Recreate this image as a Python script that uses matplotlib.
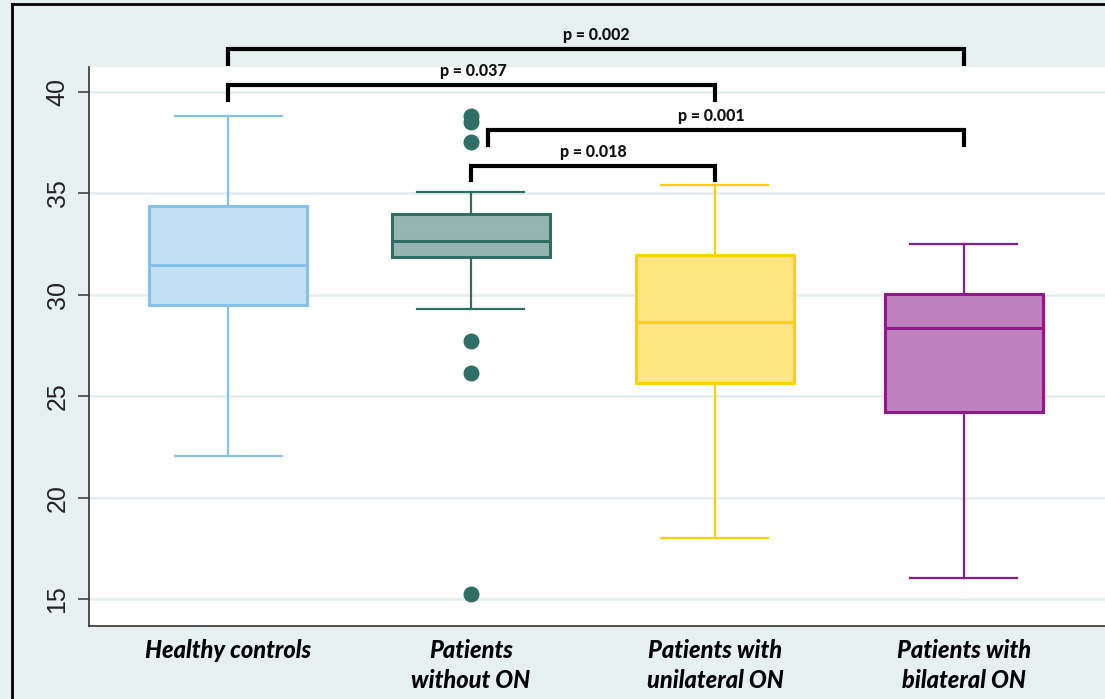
import matplotlib
matplotlib.use("Agg")
import matplotlib.pyplot as plt
from matplotlib.lines import Line2D

# group summaries: whiskers, quartiles, median and outliers
groups = ["Healthy controls", "Patients\nwithout ON", "Patients with\nunilateral ON", "Patients with\nbilateral ON"]
whis_lo = [22.07, 29.31, 18.03, 16.06]
q1 = [29.5, 31.87, 25.67, 24.24]
medians = [31.48, 32.66, 28.67, 28.37]
q3 = [34.38, 33.99, 31.97, 30.05]
whis_hi = [38.82, 35.07, 35.42, 32.51]
outliers = [[], [38.82, 38.52, 37.55, 27.73, 26.16, 15.27], [], []]

edge_colors = ["#85c1e9", "#2f6e65", "#ffd000", "#8b1a8b"]
fill_colors = ["#c3dff3", "#97b4b0", "#fee680", "#bf80bf"]

pos = [0, 0.99, 1.985, 3.0]

# pairwise comparisons: (bracket start, bracket end, p label)
comparisons = [(pos[0], pos[3], "p = 0.002"), (pos[0], pos[2], "p = 0.037"),
               (pos[1] + 0.07, pos[3], "p = 0.001"), (pos[1], pos[2], "p = 0.018")]
bracket_y = [42.12, 40.34, 38.13, 36.36]
label_x = [1.5, 1.0, 1.97, 1.49]

bg = "#e6f0f1"
fig = plt.figure(figsize=(11.05, 6.99), dpi=100, facecolor=bg)
ax = fig.add_axes([0.0805, 0.1044, 0.9195, 0.7997])
ax.set_facecolor("white")

stats = []
for i in range(len(groups)):
    stats.append(dict(med=medians[i], q1=q1[i], q3=q3[i], whislo=whis_lo[i],
                      whishi=whis_hi[i], fliers=outliers[i]))

bp = ax.bxp(stats, positions=pos, widths=0.645, capwidths=0.436,
            patch_artist=True, manage_ticks=False)
for i in range(len(groups)):
    c = edge_colors[i]
    bp["boxes"][i].set(facecolor=fill_colors[i], edgecolor=c, linewidth=2.2, zorder=3)
    bp["medians"][i].set(color=c, linewidth=2.2, zorder=4)
    for w in bp["whiskers"][2 * i:2 * i + 2]:
        w.set(color=c, linewidth=1.6)
    for cp in bp["caps"][2 * i:2 * i + 2]:
        cp.set(color=c, linewidth=1.6)
    bp["fliers"][i].set(marker="o", markerfacecolor=c, markeredgecolor=c, markersize=10.5)

ax.set_xlim(-0.567, 3.575)
ax.set_ylim(13.67, 41.23)
ax.set_yticks([15, 20, 25, 30, 35, 40])
ax.set_yticklabels(["15", "20", "25", "30", "35", "40"], rotation=90, va="center",
                   fontsize=18, family="Liberation Sans", color="#222222")
ax.tick_params(axis="y", length=8, width=1.2, color="#444444", pad=6)
ax.set_xticks(pos)
ax.set_xticklabels(groups, fontsize=17, family="Lato", weight="black", style="italic",
                   va="top", linespacing=1.4)
ax.tick_params(axis="x", length=0, pad=9)
ax.yaxis.grid(True, color="#e4eef0", linewidth=2)
ax.set_axisbelow(True)
for s in ["top", "right"]:
    ax.spines[s].set_visible(False)
ax.spines["left"].set_color("#333333")
ax.spines["bottom"].set_color("#333333")
ax.spines["left"].set_linewidth(1.2)
ax.spines["bottom"].set_linewidth(1.2)

# significance brackets
for (a, b, txt), y, tx in zip(comparisons, bracket_y, label_x):
    ax.plot([a, a, b, b], [y - 0.72, y, y, y - 0.72], color="black", linewidth=3,
            solid_joinstyle="miter", clip_on=False, zorder=5)
    ax.text(tx, y + 0.68, txt, ha="center", va="center", fontsize=11.5,
            family="Lato", weight="black", color="#111111", clip_on=False)

# outer frame
fig.add_artist(Line2D([0.0105, 0.0105], [0, 0.994], transform=fig.transFigure, color="black", linewidth=2))
fig.add_artist(Line2D([0.0105, 1], [0.994, 0.994], transform=fig.transFigure, color="black", linewidth=2))

fig.savefig("out.png", dpi=100, facecolor=bg)
